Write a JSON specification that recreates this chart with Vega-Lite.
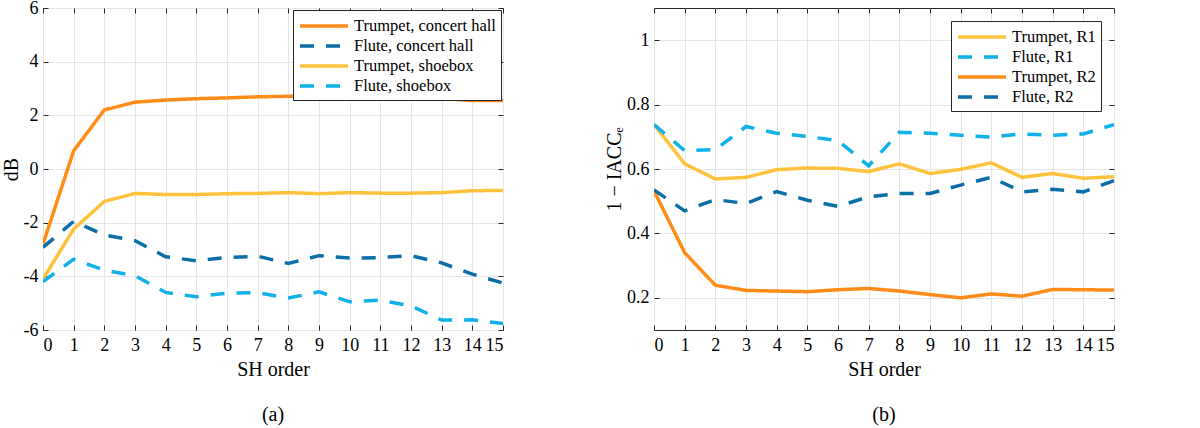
{
  "$schema": "https://vega.github.io/schema/vega-lite/v6.json",
  "background": "white",
  "padding": {"left": 0, "top": -2, "right": 5, "bottom": 0},
  "spacing": 100,
  "resolve": {"scale": {"color": "independent", "strokeDash": "independent"}, "legend": {"color": "independent", "strokeDash": "independent"}},
  "config": {
    "view": {"stroke": "#262626", "strokeWidth": 1},
    "font": "Liberation Serif",
    "axis": {
      "labelFont": "Liberation Serif", "labelFontSize": 18, "labelColor": "#000",
      "titleFont": "Liberation Serif", "titleFontSize": 20, "titleFontWeight": "normal", "titleColor": "#000",
      "domainColor": "#262626", "tickColor": "#262626", "tickSize": -5,
      "gridColor": "#e5e5e5", "gridWidth": 1
    },
    "legend": {
      "orient": "top-right", "strokeColor": "#262626", "fillColor": "#ffffff",
      "padding": 5, "symbolType": "M-2.667,0H2.667", "symbolSize": 324, "symbolStrokeWidth": 3.5,
      "symbolOffset": 15, "labelOffset": 19,
      "labelFont": "Liberation Serif", "labelFontSize": 16.5, "labelColor": "#000", "labelLimit": 400,
      "rowPadding": 0, "cornerRadius": 0
    },
    "title": {"font": "Liberation Serif", "fontSize": 20, "fontWeight": "normal", "color": "#000"}
  },
  "datasets": {
    "left": [
      {"series": "Trumpet, concert hall", "order": 0, "value": -2.8},
      {"series": "Trumpet, concert hall", "order": 1, "value": 0.68},
      {"series": "Trumpet, concert hall", "order": 2, "value": 2.2},
      {"series": "Trumpet, concert hall", "order": 3, "value": 2.49},
      {"series": "Trumpet, concert hall", "order": 4, "value": 2.57},
      {"series": "Trumpet, concert hall", "order": 5, "value": 2.62},
      {"series": "Trumpet, concert hall", "order": 6, "value": 2.65},
      {"series": "Trumpet, concert hall", "order": 7, "value": 2.69},
      {"series": "Trumpet, concert hall", "order": 8, "value": 2.71},
      {"series": "Trumpet, concert hall", "order": 9, "value": 2.7},
      {"series": "Trumpet, concert hall", "order": 10, "value": 2.67},
      {"series": "Trumpet, concert hall", "order": 11, "value": 2.65},
      {"series": "Trumpet, concert hall", "order": 12, "value": 2.65},
      {"series": "Trumpet, concert hall", "order": 13, "value": 2.63},
      {"series": "Trumpet, concert hall", "order": 14, "value": 2.55},
      {"series": "Trumpet, concert hall", "order": 15, "value": 2.55},
      {"series": "Flute, concert hall", "order": 0, "value": -2.92},
      {"series": "Flute, concert hall", "order": 1, "value": -1.95},
      {"series": "Flute, concert hall", "order": 2, "value": -2.46},
      {"series": "Flute, concert hall", "order": 3, "value": -2.67},
      {"series": "Flute, concert hall", "order": 4, "value": -3.27},
      {"series": "Flute, concert hall", "order": 5, "value": -3.42},
      {"series": "Flute, concert hall", "order": 6, "value": -3.3},
      {"series": "Flute, concert hall", "order": 7, "value": -3.25},
      {"series": "Flute, concert hall", "order": 8, "value": -3.52},
      {"series": "Flute, concert hall", "order": 9, "value": -3.23},
      {"series": "Flute, concert hall", "order": 10, "value": -3.32},
      {"series": "Flute, concert hall", "order": 11, "value": -3.3},
      {"series": "Flute, concert hall", "order": 12, "value": -3.23},
      {"series": "Flute, concert hall", "order": 13, "value": -3.5},
      {"series": "Flute, concert hall", "order": 14, "value": -3.92},
      {"series": "Flute, concert hall", "order": 15, "value": -4.25},
      {"series": "Trumpet, shoebox", "order": 0, "value": -4.1},
      {"series": "Trumpet, shoebox", "order": 1, "value": -2.24},
      {"series": "Trumpet, shoebox", "order": 2, "value": -1.21},
      {"series": "Trumpet, shoebox", "order": 3, "value": -0.91},
      {"series": "Trumpet, shoebox", "order": 4, "value": -0.95},
      {"series": "Trumpet, shoebox", "order": 5, "value": -0.95},
      {"series": "Trumpet, shoebox", "order": 6, "value": -0.92},
      {"series": "Trumpet, shoebox", "order": 7, "value": -0.91},
      {"series": "Trumpet, shoebox", "order": 8, "value": -0.88},
      {"series": "Trumpet, shoebox", "order": 9, "value": -0.92},
      {"series": "Trumpet, shoebox", "order": 10, "value": -0.88},
      {"series": "Trumpet, shoebox", "order": 11, "value": -0.9},
      {"series": "Trumpet, shoebox", "order": 12, "value": -0.9},
      {"series": "Trumpet, shoebox", "order": 13, "value": -0.88},
      {"series": "Trumpet, shoebox", "order": 14, "value": -0.81},
      {"series": "Trumpet, shoebox", "order": 15, "value": -0.8},
      {"series": "Flute, shoebox", "order": 0, "value": -4.2},
      {"series": "Flute, shoebox", "order": 1, "value": -3.36},
      {"series": "Flute, shoebox", "order": 2, "value": -3.77},
      {"series": "Flute, shoebox", "order": 3, "value": -3.98},
      {"series": "Flute, shoebox", "order": 4, "value": -4.6},
      {"series": "Flute, shoebox", "order": 5, "value": -4.76},
      {"series": "Flute, shoebox", "order": 6, "value": -4.63},
      {"series": "Flute, shoebox", "order": 7, "value": -4.61},
      {"series": "Flute, shoebox", "order": 8, "value": -4.81},
      {"series": "Flute, shoebox", "order": 9, "value": -4.58},
      {"series": "Flute, shoebox", "order": 10, "value": -4.95},
      {"series": "Flute, shoebox", "order": 11, "value": -4.89},
      {"series": "Flute, shoebox", "order": 12, "value": -5.1},
      {"series": "Flute, shoebox", "order": 13, "value": -5.63},
      {"series": "Flute, shoebox", "order": 14, "value": -5.62},
      {"series": "Flute, shoebox", "order": 15, "value": -5.76}
    ],
    "right": [
      {"series": "Trumpet, R1", "order": 0, "value": 0.738},
      {"series": "Trumpet, R1", "order": 1, "value": 0.616},
      {"series": "Trumpet, R1", "order": 2, "value": 0.569},
      {"series": "Trumpet, R1", "order": 3, "value": 0.574},
      {"series": "Trumpet, R1", "order": 4, "value": 0.598},
      {"series": "Trumpet, R1", "order": 5, "value": 0.603},
      {"series": "Trumpet, R1", "order": 6, "value": 0.602},
      {"series": "Trumpet, R1", "order": 7, "value": 0.592},
      {"series": "Trumpet, R1", "order": 8, "value": 0.616},
      {"series": "Trumpet, R1", "order": 9, "value": 0.586},
      {"series": "Trumpet, R1", "order": 10, "value": 0.599},
      {"series": "Trumpet, R1", "order": 11, "value": 0.619},
      {"series": "Trumpet, R1", "order": 12, "value": 0.574},
      {"series": "Trumpet, R1", "order": 13, "value": 0.586},
      {"series": "Trumpet, R1", "order": 14, "value": 0.571},
      {"series": "Trumpet, R1", "order": 15, "value": 0.576},
      {"series": "Flute, R1", "order": 0, "value": 0.738},
      {"series": "Flute, R1", "order": 1, "value": 0.657},
      {"series": "Flute, R1", "order": 2, "value": 0.66},
      {"series": "Flute, R1", "order": 3, "value": 0.732},
      {"series": "Flute, R1", "order": 4, "value": 0.711},
      {"series": "Flute, R1", "order": 5, "value": 0.701},
      {"series": "Flute, R1", "order": 6, "value": 0.688},
      {"series": "Flute, R1", "order": 7, "value": 0.61},
      {"series": "Flute, R1", "order": 8, "value": 0.714},
      {"series": "Flute, R1", "order": 9, "value": 0.711},
      {"series": "Flute, R1", "order": 10, "value": 0.705},
      {"series": "Flute, R1", "order": 11, "value": 0.699},
      {"series": "Flute, R1", "order": 12, "value": 0.709},
      {"series": "Flute, R1", "order": 13, "value": 0.705},
      {"series": "Flute, R1", "order": 14, "value": 0.709},
      {"series": "Flute, R1", "order": 15, "value": 0.738},
      {"series": "Trumpet, R2", "order": 0, "value": 0.532},
      {"series": "Trumpet, R2", "order": 1, "value": 0.34},
      {"series": "Trumpet, R2", "order": 2, "value": 0.239},
      {"series": "Trumpet, R2", "order": 3, "value": 0.223},
      {"series": "Trumpet, R2", "order": 4, "value": 0.221},
      {"series": "Trumpet, R2", "order": 5, "value": 0.219},
      {"series": "Trumpet, R2", "order": 6, "value": 0.225},
      {"series": "Trumpet, R2", "order": 7, "value": 0.229},
      {"series": "Trumpet, R2", "order": 8, "value": 0.221},
      {"series": "Trumpet, R2", "order": 9, "value": 0.21},
      {"series": "Trumpet, R2", "order": 10, "value": 0.2},
      {"series": "Trumpet, R2", "order": 11, "value": 0.212},
      {"series": "Trumpet, R2", "order": 12, "value": 0.205},
      {"series": "Trumpet, R2", "order": 13, "value": 0.226},
      {"series": "Trumpet, R2", "order": 14, "value": 0.225},
      {"series": "Trumpet, R2", "order": 15, "value": 0.224},
      {"series": "Flute, R2", "order": 0, "value": 0.535},
      {"series": "Flute, R2", "order": 1, "value": 0.47},
      {"series": "Flute, R2", "order": 2, "value": 0.505},
      {"series": "Flute, R2", "order": 3, "value": 0.493},
      {"series": "Flute, R2", "order": 4, "value": 0.53},
      {"series": "Flute, R2", "order": 5, "value": 0.503},
      {"series": "Flute, R2", "order": 6, "value": 0.484},
      {"series": "Flute, R2", "order": 7, "value": 0.514},
      {"series": "Flute, R2", "order": 8, "value": 0.524},
      {"series": "Flute, R2", "order": 9, "value": 0.524},
      {"series": "Flute, R2", "order": 10, "value": 0.55},
      {"series": "Flute, R2", "order": 11, "value": 0.574},
      {"series": "Flute, R2", "order": 12, "value": 0.529},
      {"series": "Flute, R2", "order": 13, "value": 0.537},
      {"series": "Flute, R2", "order": 14, "value": 0.529},
      {"series": "Flute, R2", "order": 15, "value": 0.564}
    ]
  },
  "hconcat": [
    {
      "width": 460, "height": 322,
      "title": {"text": "(a)", "orient": "bottom", "offset": 26},
      "data": {"name": "left"},
      "layer": [
        {
          "mark": {"type": "line", "strokeWidth": 3.5, "strokeCap": "butt", "clip": true},
          "encoding": {
            "x": {"field": "order", "type": "quantitative", "scale": {"domain": [0, 15], "nice": false, "zero": false},
                  "axis": {"title": "SH order", "values": [0,1,2,3,4,5,6,7,8,9,10,11,12,13,14,15], "labelExpr": "toString(datum.value)", "labelPadding": 11, "titlePadding": 5, "grid": true, "domain": false}},
            "y": {"field": "value", "type": "quantitative", "scale": {"domain": [-6, 6], "nice": false, "zero": false},
                  "axis": {"title": "dB", "values": [-6,-4,-2,0,2,4,6], "labelExpr": "toString(datum.value)", "labelPadding": 10, "titlePadding": 2, "grid": true, "domain": false}},
            "color": {"field": "series", "type": "nominal",
                      "scale": {"domain": ["Trumpet, concert hall", "Flute, concert hall", "Trumpet, shoebox", "Flute, shoebox"], "range": ["#FF8C17", "#0A6FA6", "#FFC23D", "#0EB1E8"]},
                      "legend": {"title": null, "offset": 2}},
            "strokeDash": {"field": "series", "type": "nominal",
                      "scale": {"domain": ["Trumpet, concert hall", "Flute, concert hall", "Trumpet, shoebox", "Flute, shoebox"], "range": [[1, 0], [14, 12], [1, 0], [14, 12]]},
                      "legend": {"title": null, "offset": 2}}
          }
        },
        {
          "mark": {"type": "line", "opacity": 0},
          "encoding": {
            "x": {"field": "order", "type": "quantitative", "axis": {"orient": "top", "title": null, "labels": false, "grid": false, "domain": false, "values": [0,1,2,3,4,5,6,7,8,9,10,11,12,13,14,15]}},
            "y": {"field": "value", "type": "quantitative", "axis": {"orient": "right", "title": null, "labels": false, "grid": false, "domain": false, "values": [-6,-4,-2,0,2,4,6]}},
            "detail": {"field": "series"}
          }
        }
      ],
      "resolve": {"axis": {"x": "independent", "y": "independent"}}
    },
    {
      "width": 460, "height": 322,
      "title": {"text": "(b)", "orient": "bottom", "offset": 26},
      "data": {"name": "right"},
      "layer": [
        {
          "mark": {"type": "line", "strokeWidth": 3.5, "strokeCap": "butt", "clip": true},
          "encoding": {
            "x": {"field": "order", "type": "quantitative", "scale": {"domain": [0, 15], "nice": false, "zero": false},
                  "axis": {"title": "SH order", "values": [0,1,2,3,4,5,6,7,8,9,10,11,12,13,14,15], "labelExpr": "toString(datum.value)", "labelPadding": 11, "titlePadding": 5, "grid": true, "domain": false}},
            "y": {"field": "value", "type": "quantitative", "scale": {"domain": [0.1, 1.1], "nice": false, "zero": false},
                  "axis": {"title": "1 − IACCₑ", "values": [0.2, 0.4, 0.6, 0.8, 1], "labelExpr": "toString(datum.value)", "labelPadding": 10, "titlePadding": 2, "grid": true, "domain": false}},
            "color": {"field": "series", "type": "nominal",
                      "scale": {"domain": ["Trumpet, R1", "Flute, R1", "Trumpet, R2", "Flute, R2"], "range": ["#FFC23D", "#0EB1E8", "#FF8C17", "#0A6FA6"]},
                      "legend": {"title": null, "offset": 13}},
            "strokeDash": {"field": "series", "type": "nominal",
                      "scale": {"domain": ["Trumpet, R1", "Flute, R1", "Trumpet, R2", "Flute, R2"], "range": [[1, 0], [14, 12], [1, 0], [14, 12]]},
                      "legend": {"title": null, "offset": 13}}
          }
        },
        {
          "mark": {"type": "line", "opacity": 0},
          "encoding": {
            "x": {"field": "order", "type": "quantitative", "axis": {"orient": "top", "title": null, "labels": false, "grid": false, "domain": false, "values": [0,1,2,3,4,5,6,7,8,9,10,11,12,13,14,15]}},
            "y": {"field": "value", "type": "quantitative", "axis": {"orient": "right", "title": null, "labels": false, "grid": false, "domain": false, "values": [0.2, 0.4, 0.6, 0.8, 1]}},
            "detail": {"field": "series"}
          }
        }
      ],
      "resolve": {"axis": {"x": "independent", "y": "independent"}}
    }
  ]
}
